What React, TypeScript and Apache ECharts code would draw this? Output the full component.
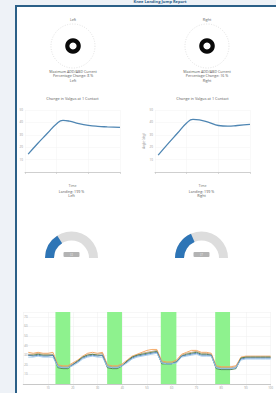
import React, { useEffect, useRef } from "react";
import * as echarts from "echarts";

// ---------- data ----------
const sides = ["Left", "Right"];
const ringValues = [1, 1];
const ringCaptionLine1 = ["Maximum ADD/ABD Current", "Maximum ADD/ABD Current"];
const ringCaptionLine2 = ["Percentage Change: 8 %", "Percentage Change: 16 %"];
const lineChartTitle = "Change in Valgus at 1 Contact";
const gaugeTitles = ["Landing: 199 %", "Landing: 199 %"];
const gaugeValues = [32, 37];

const curveX = [1, 4, 7, 10, 12, 14, 17, 20, 23, 26, 30];
const curveLeft = [14.4, 23, 31, 39, 41.6, 41, 39, 37.6, 36.8, 36.4, 36];
const curveRight = [13.6, 22.5, 31, 39.5, 42.4, 42, 40, 37.5, 37, 37.5, 38.4];

const timeX = [2, 4, 6, 8, 10, 12, 14, 16, 18, 20, 22, 24, 26, 28, 30, 32, 34, 36, 38, 40, 42, 44, 46, 48, 50, 52, 54, 56, 58, 60, 62, 64, 66, 68, 70, 72, 74, 76, 78, 80, 82, 84, 86, 88, 90, 92, 94, 96, 98, 100];
const orange = [33, 32, 33, 32, 32, 33, 20, 19, 19, 22, 25, 29, 32, 33, 32, 33, 20, 19, 19, 21, 25, 29, 31, 33, 35, 36, 36, 24, 23, 23, 25, 31, 33, 35, 35, 33, 33, 32, 19, 18, 18, 18, 19, 28, 29, 29, 29, 29, 29, 29];
const tan = [31, 31, 32, 31, 31, 31, 19, 18, 18, 21, 24, 28, 31, 31, 31, 32, 19, 18, 18, 20, 24, 28, 30, 32, 33, 34, 35, 23, 22, 22, 24, 30, 32, 33, 34, 32, 32, 31, 18, 17, 17, 17, 18, 27, 28, 28, 28, 28, 28, 28];
const darkGreen = [30, 30, 31, 30, 30, 30, 17, 16, 16, 20, 24, 28, 30, 31, 30, 30, 17, 16, 16, 19, 24, 28, 30, 31, 32, 33, 34, 21, 21, 21, 23, 29, 31, 32, 33, 31, 31, 30, 16, 15, 15, 15, 16, 27, 28, 28, 28, 28, 28, 28];
const blue = [30, 29, 30, 29, 29, 30, 18, 17, 17, 20, 23, 27, 29, 30, 29, 30, 18, 17, 17, 19, 23, 27, 29, 30, 31, 32, 33, 22, 21, 21, 23, 29, 30, 31, 32, 30, 30, 30, 17, 16, 16, 16, 17, 26, 27, 27, 27, 27, 27, 27];
const lightBlue = [28, 28, 29, 28, 28, 28, 18, 17, 17, 19, 22, 26, 28, 29, 28, 28, 18, 17, 17, 19, 22, 26, 28, 29, 30, 31, 32, 22, 21, 21, 22, 28, 29, 30, 31, 29, 29, 29, 17, 16, 16, 16, 17, 25, 26, 26, 26, 26, 26, 26];
const greenBands = [[13.0, 19.0], [33.9, 39.9], [55.6, 61.9], [77.6, 83.6]];

// ---------- styles ----------
const FONT = "'Open Sans', 'Noto Sans', sans-serif";
const TXT = "#5a5a5a";

const pairs = (xs: number[], ys: number[]) => xs.map((x, i) => [x, ys[i]]);

export default function App() {
  const ref = useRef<HTMLDivElement>(null);
  useEffect(() => {
    if (!ref.current) return;
    const chart = echarts.init(ref.current, undefined, { renderer: "svg" });

    const ringCenters = [[73, 46], [207, 46]];
    const lineCenters = [72.5, 202.5];
    const gaugeCenters = [[71.5, 258], [201.5, 258]];

    const text = (x: number, y: number, t: string, size = 4, fill = TXT, extra: any = {}) => ({
      type: "text",
      x,
      y,
      style: { text: t, fontSize: size, fill, fontFamily: FONT, textAlign: "center", textVerticalAlign: "middle", ...extra },
      silent: true,
    });

    const graphic: any[] = [
      { type: "rect", shape: { x: 15, y: 5, width: 300, height: 420 }, style: { fill: "#2b6088" }, z: -10, silent: true },
      { type: "rect", shape: { x: 17, y: 7, width: 300, height: 420 }, style: { fill: "#ffffff" }, z: -9, silent: true },
      text(160, 1.5, "Knee Landing Jump Report", 4, "#2b6088", { fontWeight: "bold" }),
    ];
    sides.forEach((s, i) => {
      const cx = ringCenters[i][0];
      graphic.push(text(cx, 19, s, 3.5));
      graphic.push(text(cx, 71, ringCaptionLine1[i], 3.6));
      graphic.push(text(cx, 75.5, ringCaptionLine2[i], 3.6));
      graphic.push(text(cx, 80, s, 3.6));
      graphic.push(text(lineCenters[i], 98, lineChartTitle, 3.8));
      graphic.push(text(gaugeCenters[i][0], 191, gaugeTitles[i], 3.6));
      graphic.push(text(gaugeCenters[i][0], 195, s, 3.6));
    });

    const lineXAxis = (gi: number) => ({
      gridIndex: gi,
      type: "value",
      min: 0,
      max: 30,
      interval: 10,
      axisLine: { show: true, onZero: false, lineStyle: { color: "#c4c4c4", width: 0.8 } },
      axisTick: { show: true, length: 2, lineStyle: { color: "#c4c4c4", width: 0.6 } },
      axisLabel: { show: false },
      splitLine: { show: true, lineStyle: { color: "#f2f2f2", width: 0.5 } },
      name: "Time",
      nameLocation: "middle",
      nameGap: 11,
      nameTextStyle: { fontSize: 3.5, color: "#777", fontFamily: FONT },
    });
    const lineYAxis = (gi: number, name: string) => ({
      gridIndex: gi,
      type: "value",
      min: 0,
      max: 50,
      interval: 10,
      axisLine: { show: false },
      axisTick: { show: false },
      axisLabel: { fontSize: 3, color: "#999", margin: 2, showMinLabel: false, fontFamily: FONT },
      splitLine: { show: true, lineStyle: { color: "#f2f2f2", width: 0.5 } },
      name,
      nameLocation: "middle",
      nameGap: 7,
      nameTextStyle: { fontSize: 3, color: "#888", fontFamily: FONT },
    });

    const bottomColors = ["#f4a259", "#c9a37c", "#4a7a45", "#4f81bd", "#9fc8ea"];
    const bottomData = [orange, tan, darkGreen, blue, lightBlue];

    const series: any[] = [];
    sides.forEach((s, i) => {
      series.push({
        type: "pie",
        center: ringCenters[i],
        radius: [3.6, 7.8],
        silent: true,
        label: { show: false },
        labelLine: { show: false },
        itemStyle: { color: "#0a0a0a" },
        data: [{ value: ringValues[i], name: s }],
      });
    });
    series.push({
      type: "line", xAxisIndex: 0, yAxisIndex: 0, smooth: true, showSymbol: false,
      lineStyle: { color: "#4f86b3", width: 1.3 }, data: pairs(curveX, curveLeft),
    });
    series.push({
      type: "line", xAxisIndex: 1, yAxisIndex: 1, smooth: true, showSymbol: false,
      lineStyle: { color: "#4f86b3", width: 1.3 }, data: pairs(curveX, curveRight),
    });
    sides.forEach((s, i) => {
      series.push({
        type: "gauge",
        center: gaugeCenters[i],
        radius: 26.5,
        startAngle: 180,
        endAngle: 0,
        min: 0,
        max: 100,
        axisLine: { lineStyle: { width: 9, color: [[1, "#dddddd"]] } },
        progress: { show: true, width: 9, itemStyle: { color: "#2e75b6" } },
        pointer: { show: false },
        anchor: { show: false },
        axisTick: { show: false },
        splitLine: { show: false },
        axisLabel: { show: false },
        title: { show: false },
        detail: {
          formatter: "{value}",
          fontSize: 2.5,
          color: "#d8d8d8",
          backgroundColor: "#b3b3b3",
          borderRadius: 1,
          padding: 0,
          width: 16,
          height: 5,
          lineHeight: 5,
          offsetCenter: [0, -3.5],
          fontFamily: FONT,
        },
        data: [{ value: gaugeValues[i], name: s }],
      });
    });
    series.push({
      type: "line", xAxisIndex: 2, yAxisIndex: 2, showSymbol: false, silent: true,
      data: [], z: 1,
      markArea: {
        silent: true,
        itemStyle: { color: "#8ef28e" },
        data: greenBands.map(([a, b]) => [{ xAxis: a }, { xAxis: b }]),
      },
    });
    bottomData.forEach((d, k) => {
      series.push({
        type: "line", xAxisIndex: 2, yAxisIndex: 2, showSymbol: false, z: 3,
        lineStyle: { color: bottomColors[k], width: 0.9 }, data: pairs(timeX, d),
      });
    });

    chart.setOption({
      animation: false,
      textStyle: { fontFamily: FONT },
      graphic,
      polar: [
        { center: ringCenters[0], radius: 22 },
        { center: ringCenters[1], radius: 22 },
      ],
      angleAxis: [0, 1].map((p) => ({
        polarIndex: p, type: "value", min: 0, max: 360,
        axisLine: { show: true, lineStyle: { color: "#cfcfcf", type: [1, 1.5], width: 0.6 } },
        axisTick: { show: false }, axisLabel: { show: false }, splitLine: { show: false },
      })),
      radiusAxis: [0, 1].map((p) => ({ polarIndex: p, type: "value", min: 0, max: 1, show: false })),
      grid: [
        { left: 25, top: 110, width: 95, height: 62 },
        { left: 155, top: 110, width: 95, height: 62 },
        { left: 23.3, top: 312, width: 267.5, height: 72 },
      ],
      xAxis: [
        lineXAxis(0),
        lineXAxis(1),
        {
          gridIndex: 2, type: "value", min: 0, max: 100, interval: 10,
          axisLine: { show: true, onZero: false, lineStyle: { color: "#bbb", width: 0.8 } },
          axisTick: { show: true, length: 1.5, lineStyle: { color: "#ccc", width: 0.5 } },
          axisLabel: { fontSize: 2.8, color: "#999", margin: 2, showMinLabel: false, fontFamily: FONT },
          splitLine: { show: true, lineStyle: { color: "#eeeeee", width: 0.5 } },
        },
      ],
      yAxis: [
        lineYAxis(0, ""),
        lineYAxis(1, "Angle (deg)"),
        {
          gridIndex: 2, type: "value", min: 0, max: 75, interval: 10,
          axisLine: { show: false }, axisTick: { show: false },
          axisLabel: { inside: true, fontSize: 2.8, color: "#999", margin: 1, showMinLabel: false, showMaxLabel: false, fontFamily: FONT },
          splitLine: { show: true, lineStyle: { color: "#eeeeee", width: 0.5 } },
        },
      ],
      series,
    });
    return () => chart.dispose();
  }, []);

  return (
    <div style={{ position: "fixed", left: 0, top: 0, width: 276, height: 393, overflow: "hidden", background: "#eef2f7" }}>
      <div ref={ref} style={{ width: 276, height: 393 }} />
    </div>
  );
}
